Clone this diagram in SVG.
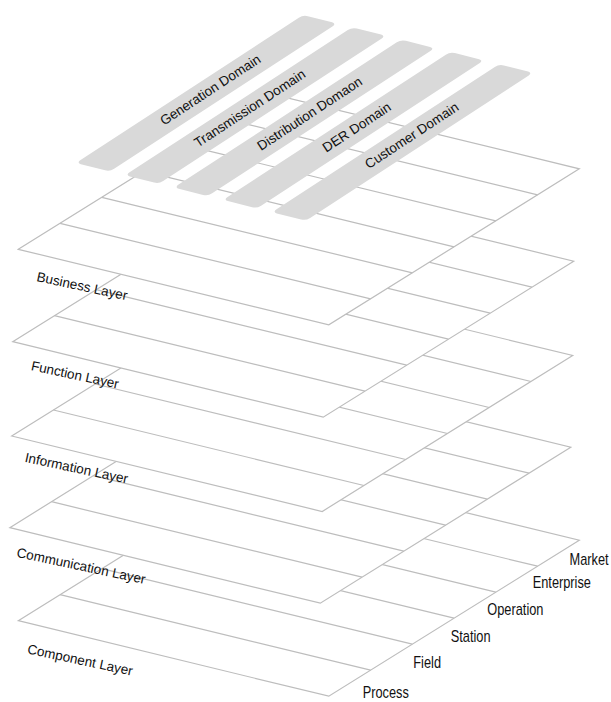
<svg xmlns="http://www.w3.org/2000/svg" width="611" height="702" viewBox="0 0 611 702">
<style>
.plane{fill:#fff;stroke:#bdbdbd;stroke-width:1.2}
.zl{stroke:#bdbdbd;stroke-width:1.2;fill:none}
.ll{font-family:"Liberation Sans",Arial,sans-serif;font-size:13.5px;fill:#111}
.dl{font-family:"Liberation Sans",Arial,sans-serif;font-size:13.5px;fill:#111}
.zn{font-family:"Liberation Sans",Arial,sans-serif;font-size:16px;fill:#111}
.bar{fill:#d9d9d9}
</style>
<defs>
<g id="plane">
<polygon class="plane" points="0,0 310.5,75.5 561,-80.5 250.5,-156"/>
<path class="zl" d="M41.75,-26L352.25,49.5M83.5,-52L394,23.5M125.25,-78L435.75,-2.5M167,-104L477.5,-28.5M208.75,-130L519.25,-54.5"/>
</g>
<rect id="bar" width="271" height="35" rx="5" ry="5"/>
</defs>
<rect width="611" height="702" fill="#fff"/>
<g id="component-layer">
<use href="#plane" transform="translate(18.3,620.7)"/>
<text class="ll" transform="translate(26.7,653.3) rotate(12)">Component Layer</text>
</g>
<g id="communication-layer">
<use href="#plane" transform="translate(9.8,527.7)"/>
<text class="ll" transform="translate(16,556.7) rotate(12)">Communication Layer</text>
</g>
<g id="information-layer">
<use href="#plane" transform="translate(11.7,436)"/>
<text class="ll" transform="translate(24.2,461.7) rotate(12)">Information Layer</text>
</g>
<g id="function-layer">
<use href="#plane" transform="translate(12.7,341.7)"/>
<text class="ll" transform="translate(30.4,370) rotate(12)">Function Layer</text>
</g>
<g id="business-layer">
<use href="#plane" transform="translate(18.3,249.3)"/>
<text class="ll" transform="translate(36,281) rotate(12)">Business Layer</text>
</g>
<g id="generation-domain">
<use href="#bar" class="bar" transform="matrix(0.8376,-0.5461,0.970,0.2425,76,163)"/>
<text class="dl" transform="translate(163.9,125.8) rotate(-33.3)">Generation Domain</text>
</g>
<g id="transmission-domain">
<use href="#bar" class="bar" transform="matrix(0.8376,-0.5461,0.970,0.2425,125,175.3)"/>
<text class="dl" transform="translate(197.9,147.8) rotate(-33.3)">Transmission Domain</text>
</g>
<g id="distribution-domain">
<use href="#bar" class="bar" transform="matrix(0.8376,-0.5461,0.970,0.2425,174,187.6)"/>
<text class="dl" transform="translate(261,151) rotate(-33.3)">Distribution Domaon</text>
</g>
<g id="der-domain">
<use href="#bar" class="bar" transform="matrix(0.8376,-0.5461,0.970,0.2425,223,199.9)"/>
<text class="dl" transform="translate(326.3,152.7) rotate(-33.3)">DER Domain</text>
</g>
<g id="customer-domain">
<use href="#bar" class="bar" transform="matrix(0.8376,-0.5461,0.970,0.2425,272,212.2)"/>
<text class="dl" transform="translate(368.8,169.2) rotate(-33.3)">Customer Domain</text>
</g>
<g id="zones">
<text class="zn" transform="translate(569.5,565) scale(0.8,1)">Market</text>
<text class="zn" transform="translate(532.7,587.5) scale(0.8,1)">Enterprise</text>
<text class="zn" transform="translate(487.3,615) scale(0.8,1)">Operation</text>
<text class="zn" transform="translate(450.7,641.7) scale(0.8,1)">Station</text>
<text class="zn" transform="translate(413.3,667.7) scale(0.8,1)">Field</text>
<text class="zn" transform="translate(362.7,697.5) scale(0.8,1)">Process</text>
</g>
<g id="connectors"/>
</svg>
